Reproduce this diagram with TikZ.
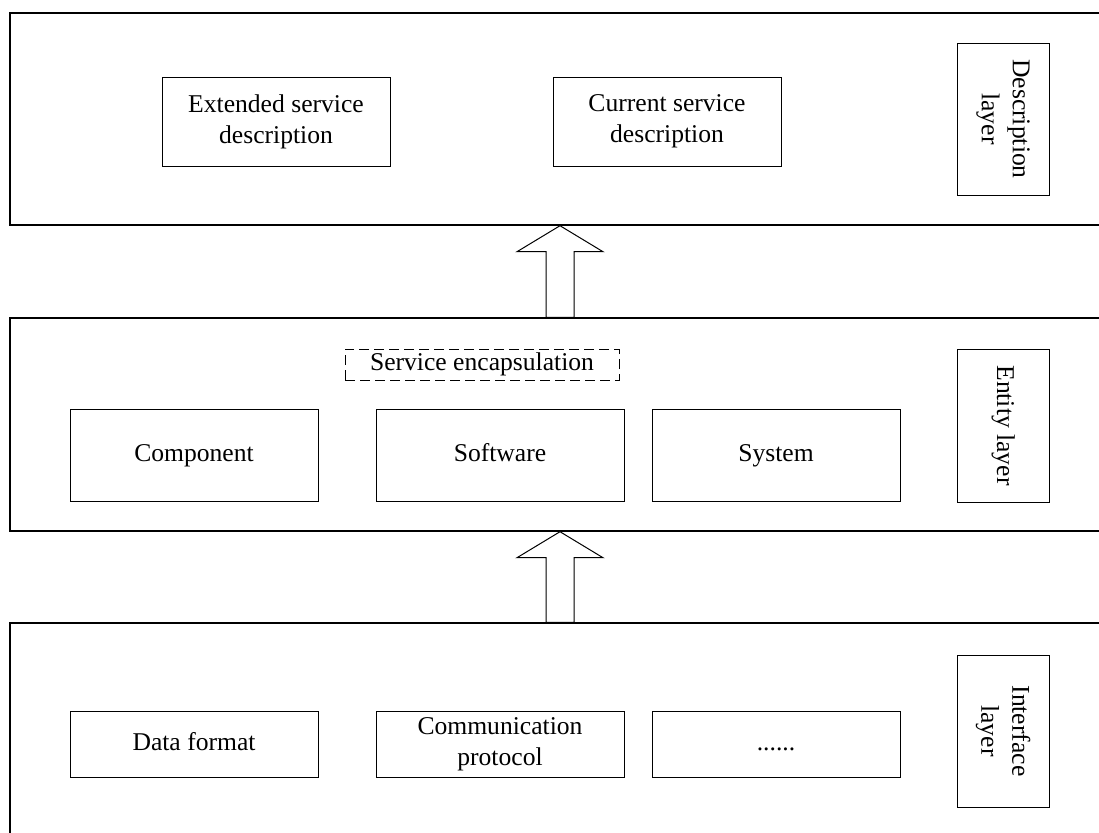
\documentclass[tikz,border=0pt]{standalone}
\usepackage{fontspec}
\setmainfont{Liberation Serif}
\usepackage{tikz}
\usetikzlibrary{positioning,calc}

\begin{document}
\begin{tikzpicture}[x=0.5pt,y=-0.5pt,
    font=\fontsize{12.8}{15.5}\selectfont,
    layer/.style={draw,line width=0.7pt,minimum width=550pt,inner sep=0pt},
    unit/.style={draw,line width=0.5pt,align=center,inner sep=0pt,minimum width=124pt},
    oneline/.style={text height=9pt,text depth=3pt},
    side/.style={draw,line width=0.5pt,align=center,inner sep=0pt,rotate=-90,minimum height=46pt},
    hollow/.style={draw,line width=0.5pt,fill=white,line join=miter}]
                \useasboundingbox (0,0) rectangle (1099,832);
                \clip (0,0) rectangle (1099,832);
                % layers
                \node[layer,minimum height=106pt] (desc) at (560,119) {};
                \node[layer,minimum height=106.5pt] (ent) at (560,424.5) {};
                \node[layer,minimum height=111pt] (intf) at (560,734) {};
                % description layer
                \node[unit,minimum width=114pt,minimum height=44.5pt] (ext) at (276,121.5) {Extended service\\description};
                \node[unit,minimum width=114pt,minimum height=44.5pt] (cur) at (667,121.5) {Current service\\description};
                \node[side,minimum width=76pt] (desclab) at (1003,119) {Description\\layer};
                % entity layer
                \node[draw,line width=0.5pt,dash pattern=on 5pt off 2.5pt,inner sep=0pt,oneline,minimum width=137pt,minimum height=15.5pt] (enc) at (482,364.5) {Service encapsulation};
                \node[unit,oneline,minimum height=46pt] (comp) at (194,455) {Component};
                \node[unit,oneline,minimum height=46pt] (soft) at (500,455) {Software};
                \node[unit,oneline,minimum height=46pt] (sys) at (776,455) {System};
                \node[side,oneline,minimum width=76.5pt] (entlab) at (1003,425.5) {Entity layer};
                % interface layer
                \node[unit,oneline,minimum height=33pt] (data) at (194,744) {Data format};
                \node[unit,minimum height=33pt] (comm) at (500,744) {Communication\\protocol};
                \node[unit,oneline,minimum height=33pt] (dots) at (776,744) {......};
                \node[side,minimum width=76pt] (intlab) at (1003,731) {Interface\\layer};
                % arrows between layers
                \coordinate (tipA) at (560,0 |- desc.south);
                \coordinate (baseA) at (560,0 |- ent.north);
                \coordinate (tipB) at (560,0 |- ent.south);
                \coordinate (baseB) at (560,0 |- intf.north);
                \draw[hollow] (tipA) -- ++(43,26) -- ++(-29,0) |- (baseA) -- ++(-14,0) -- ($(tipA)+(-14,26)$) -- ++(-29,0) -- cycle;
                \draw[hollow] (tipB) -- ++(43,26) -- ++(-29,0) |- (baseB) -- ++(-14,0) -- ($(tipB)+(-14,26)$) -- ++(-29,0) -- cycle;
\end{tikzpicture}
\end{document}
